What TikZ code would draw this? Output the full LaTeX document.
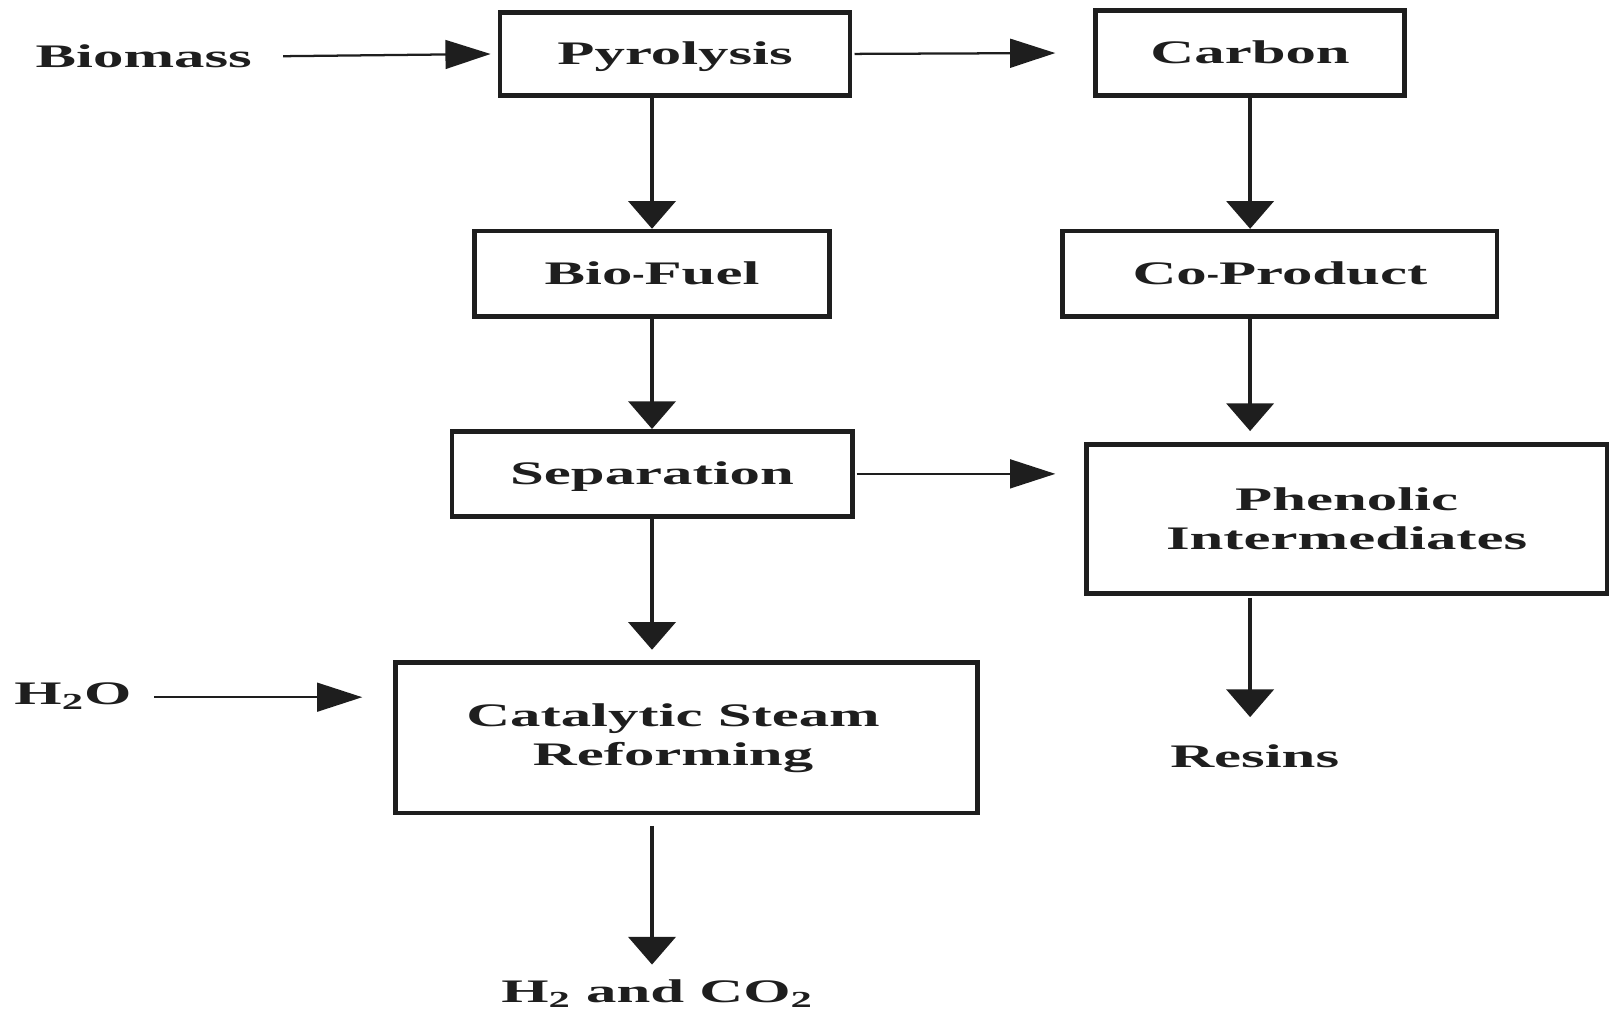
\documentclass[tikz,border=0pt]{standalone}
\usepackage{fontspec}
\newfontfamily\lbl[FakeStretch=1.85]{Liberation Serif}
\usetikzlibrary{arrows.meta}
\definecolor{ink}{HTML}{1E1E1E}
% a hyphen that is not widened by the stretched font
\newcommand{\shorthy}{\scalebox{0.6}[1]{-}}
\begin{document}
\begin{tikzpicture}[x=0.5pt,y=-0.5pt,
  every node/.style={font=\lbl\bfseries\fontsize{16}{19}\selectfont, text=ink},
  stage/.style={draw=ink, line width=2.2pt, rectangle, inner sep=0pt, align=center},
  oneline/.style={text height=10.6pt, text depth=0pt},
  tag/.style={inner sep=0pt},
  harrow/.style={draw=ink, line width=1.1pt, -{Triangle[length=22pt,width=14pt]}},
  varrow/.style={draw=ink, line width=1.6pt, -{Triangle[length=13.5pt,width=23pt]}}]
\useasboundingbox[fill=white] (0,0) rectangle (1568,986);

% process stages
\node[stage, oneline, minimum width=170.5pt, minimum height=40.5pt] (pyro)    at (657.5,52.5)  {Pyrolysis};
\node[stage, oneline, minimum width=150.5pt, minimum height=41.5pt] (carbon)  at (1217.5,51.5) {Carbon};
\node[stage, oneline, minimum width=173pt,   minimum height=41.5pt] (biofuel) at (635,266.5)   {Bio\shorthy Fuel};
\node[stage, oneline, minimum width=211.5pt, minimum height=41.5pt] (coprod)  at (1246.5,266.5) {Co\shorthy Product};
\node[stage, oneline, minimum width=195pt,   minimum height=41.5pt] (sep)     at (635,461.5)   {Separation};
\node[stage, minimum width=253.5pt, minimum height=72.5pt] (phen)    at (1311.5,505.5) {Phenolic\\Intermediates};
\node[stage, minimum width=283.5pt, minimum height=73.5pt] (csr)     at (668.5,718.5) {Catalytic Steam\hspace*{13pt}\\Reforming\hspace*{13pt}};

% inputs and outputs
\node[tag, anchor=base] (biomass) at (140,66)  {Biomass};
\node[tag, anchor=base] (h2o)     at (71,686)  {H\textsubscript{2}O};
\node[tag, anchor=base] (resins)  at (1222,747) {Resins};
\node[tag, anchor=base] (h2co2)   at (640,976) {H\textsubscript{2} and CO\textsubscript{2}};
\coordinate (h2oout) at ([yshift=3.5pt]h2o.base east);

% horizontal flows
\draw[harrow, shorten <=15pt, shorten >=3.5pt] (biomass.east) -- (pyro.west);
\draw[harrow, shorten <=1pt, shorten >=18.5pt] (pyro.east) -- (carbon.west);
\draw[harrow, shorten <=1pt, shorten >=14pt] (sep.east) -- (phen.west |- sep.east);
\draw[harrow, shorten <=11pt, shorten >=15pt] (h2oout) -- (csr.west |- h2oout);

% vertical flows, left column
\draw[varrow] (pyro.south -| biofuel.north) -- (biofuel.north);
\draw[varrow] (biofuel.south) -- (sep.north);
\draw[varrow, shorten >=5pt] (sep.south) -- (csr.north -| sep.south);
\draw[varrow, shorten <=5pt, shorten >=7pt] (csr.south -| sep.south) -- (h2co2.north -| sep.south);

% vertical flows, right column
\draw[varrow] (carbon.south) -- (coprod.north -| carbon.south);
\draw[varrow, shorten >=5.5pt] (coprod.south -| carbon.south) -- (phen.north -| carbon.south);
\draw[varrow, shorten <=1pt, shorten >=13pt] (phen.south -| carbon.south) -- (resins.north -| carbon.south);
\end{tikzpicture}
\end{document}
